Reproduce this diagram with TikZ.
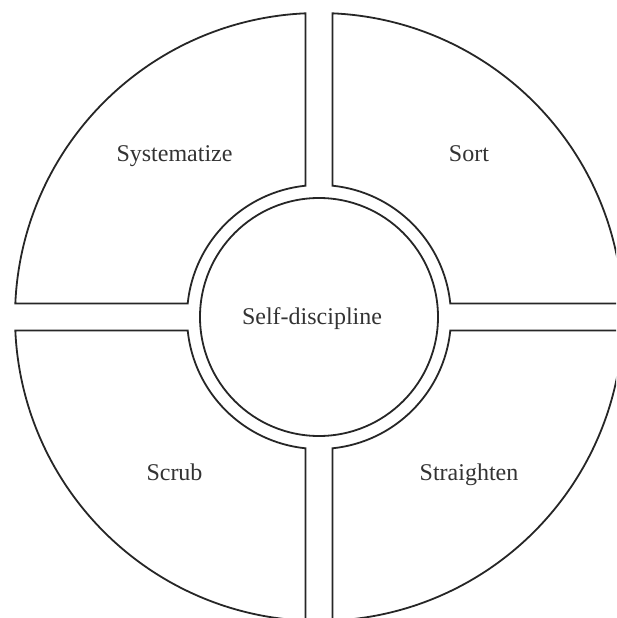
\documentclass[tikz,border=0pt]{standalone}
\usepackage{fontspec}
\setmainfont{Liberation Serif}
\usetikzlibrary{positioning}
\definecolor{sline}{HTML}{262626}
\definecolor{stext}{HTML}{333333}
\tikzset{
  segbox/.style={draw=sline, line width=1.8pt, fill=white, line join=miter},
  corebox/.style={circle, draw=sline, line width=1.8pt, minimum size=238pt, inner sep=0pt},
  lbl/.style={font=\fontsize{24}{28}\selectfont, text=stext, anchor=base, inner sep=0pt},
}
\begin{document}
\begin{tikzpicture}[x=1pt, y=1pt]
    \useasboundingbox (-319,-301) rectangle (297,317);
    \clip (-319,-301) rectangle (297,317);
    \def\R{304}
    \def\r{132}
    \def\g{13.5}
    % four ring segments
    \foreach \a in {0,90,180,270}
      \draw[segbox, rotate=\a] ({90-asin(\g/\R)}:\R) -- ({90-asin(\g/\r)}:\r)
        arc[start angle={90-asin(\g/\r)}, end angle={asin(\g/\r)}, radius=\r]
        -- ({asin(\g/\R)}:\R)
        arc[start angle={asin(\g/\R)}, end angle={90-asin(\g/\R)}, radius=\R] -- cycle;
    \node[corebox] (core) at (0,0) {};
    \node[lbl] (self) at (-7,-8) {Self-discipline};
    \node[lbl] (systematize) at (-144.5,155) {Systematize};
    \node[lbl] (sort) at (150,155) {Sort};
    \node[lbl] (scrub) at (-144.5,-163) {Scrub};
    \node[lbl] (straighten) at (150,-163) {Straighten};
\end{tikzpicture}
\end{document}
